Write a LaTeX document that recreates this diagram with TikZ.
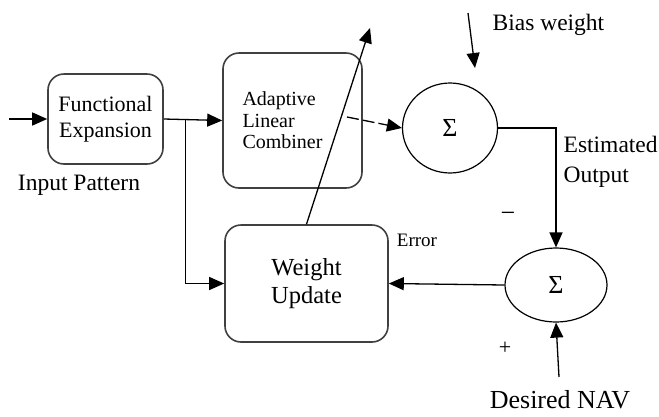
\documentclass[tikz,border=0pt]{standalone}
\usepackage{fontspec}
\setmainfont{Liberation Serif}
\usetikzlibrary{arrows.meta, positioning, shapes.geometric}

\begin{document}
\begin{tikzpicture}[x=1pt, y=-1pt, >={Triangle[length=15pt, width=13pt]}, line width=1.3pt,
    block/.style={draw=black!75, line width=1.6pt, rounded corners=16pt, align=center, inner sep=0pt},
    sumnode/.style={draw, ellipse, line width=1.2pt, inner sep=0pt, font=\fontsize{26}{28}\selectfont},
    lbl/.style={inner sep=0pt, font=\fontsize{23.5}{30}\selectfont}]
    \useasboundingbox (0,0) rectangle (659,416);

    % blocks and summing junctions
    \node[block, minimum width=115pt, minimum height=90pt, font=\fontsize{22}{26}\selectfont] (fe) at (105.5,119) {Functional\\Expansion};
    \node[block, minimum width=139pt, minimum height=135pt, text width=100pt, align=left, font=\fontsize{20}{21.5}\selectfont] (alc) at (292.5,120.5) {Adaptive\\Linear\\Combiner};
    \node[block, minimum width=163pt, minimum height=117pt, font=\fontsize{24.5}{28}\selectfont] (wu) at (306.5,283.5) {Weight\\Update};
    \node[sumnode, minimum width=95pt, minimum height=90pt] (s1) at (450,128) {Σ};
    \node[sumnode, minimum width=102pt, minimum height=74pt] (s2) at (556,285) {Σ};

    % free ends
    \coordinate[left=38pt of fe.west] (inp);
    \coordinate[right=22pt of fe.east] (split);
    \coordinate (alcout) at (347,117);
    \coordinate (wutip) at (370,28);
    \coordinate (biasin) at (468,13);
    \coordinate (biastip) at (475,68);
    \coordinate (nav) at (559,377);

    % connectors
    \draw[->] (inp) -- (fe.west);
    \draw[->] (fe.east) -- (alc.west);
    \draw[->] (split) |- (wu.west);
    \draw[->, dash pattern=on 12pt off 4pt] (alcout) -- (s1.west);
    \draw[->] (wu.north) -- (wutip);
    \draw[->] (biasin) -- (biastip);
    \draw[->] (s1.east) -| (s2.north);
    \draw[->] (s2.west) -- (wu.east);
    \draw[->] (nav) -- (s2.south);

    % labels
    \node[lbl] (inlbl) at (79,185) {Input Pattern};
    \node[lbl, anchor=west] (biaslbl) at (492,25) {Bias weight};
    \node[lbl, anchor=north west, align=left] (estlbl) at (563,136) {Estimated\\Output};
    \node[lbl, font=\fontsize{26}{28}\selectfont] (minus) at (508,217) {−};
    \node[lbl, font=\fontsize{19}{20}\selectfont] (errlbl) at (417,240) {Error};
    \node[lbl, font=\fontsize{22}{24}\selectfont] (plus) at (505,348) {+};
    \node[lbl, font=\fontsize{26}{28}\selectfont] (navlbl) at (560,400) {Desired NAV};
\end{tikzpicture}
\end{document}
